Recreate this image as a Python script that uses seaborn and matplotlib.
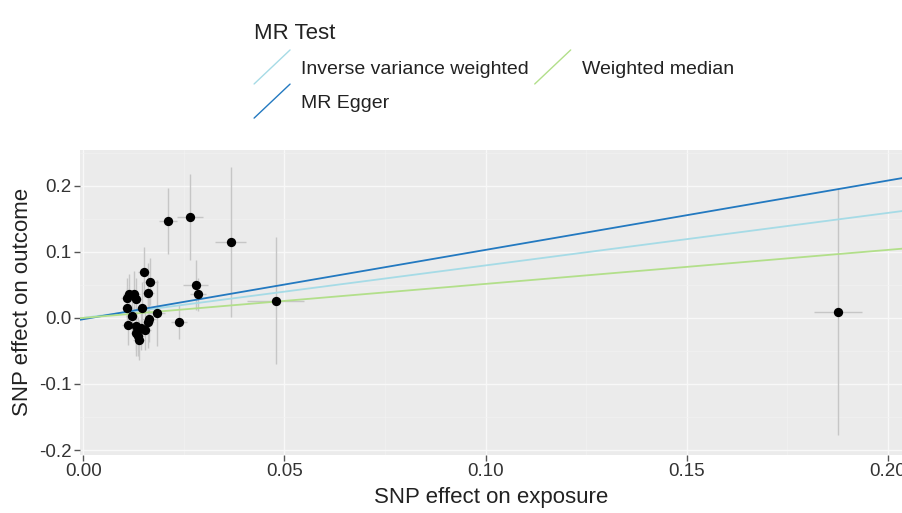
import numpy as np
import pandas as pd
import seaborn as sns
import matplotlib.pyplot as plt
from matplotlib.legend_handler import HandlerLine2D
from matplotlib.lines import Line2D

# SNP effects
beta_exp = [0.0211, 0.0266, 0.0366, 0.0478, 0.0279, 0.0286, 0.0239, 0.0152, 0.0167, 0.0160,
            0.0114, 0.0127, 0.0110, 0.0132, 0.0110, 0.0147, 0.0184, 0.0120, 0.0164, 0.0160,
            0.0112, 0.0132, 0.0144, 0.0154, 0.0132, 0.0137, 0.0139, 0.1876]
beta_out = [0.147, 0.153, 0.115, 0.026, 0.050, 0.036, -0.006, 0.070, 0.055, 0.038,
            0.036, 0.036, 0.030, 0.029, 0.015, 0.015, 0.008, 0.003, -0.002, -0.006,
            -0.011, -0.013, -0.016, -0.018, -0.023, -0.028, -0.033, 0.009]
se_exp = [0.0022, 0.0032, 0.0038, 0.0070, 0.0030, 0.0020, 0.0020, 0.0015, 0.0018, 0.0015,
          0.0015, 0.0014, 0.0016, 0.0015, 0.0014, 0.0016, 0.0020, 0.0014, 0.0018, 0.0015,
          0.0015, 0.0014, 0.0016, 0.0015, 0.0014, 0.0014, 0.0015, 0.0060]
se_out = [0.050, 0.065, 0.114, 0.096, 0.038, 0.025, 0.026, 0.038, 0.035, 0.045,
          0.030, 0.035, 0.030, 0.032, 0.030, 0.040, 0.050, 0.028, 0.035, 0.040,
          0.030, 0.035, 0.032, 0.030, 0.035, 0.030, 0.030, 0.187]

methods = ["Inverse variance weighted", "MR Egger", "Weighted median"]
intercepts = [0.0, -0.002, 0.0]
slopes = [0.795, 1.05, 0.515]
colors = ["#a6dbe6", "#2379c0", "#b2df8a"]

df = pd.DataFrame({"exp": beta_exp, "out": beta_out, "se_exp": se_exp, "se_out": se_out})


class DiagHandler(HandlerLine2D):
    # ggplot-style abline key: a diagonal stroke
    def create_artists(self, legend, orig_handle, xdescent, ydescent, width, height, fontsize, trans):
        ln = Line2D([0, width], [-height * 0.75, height * 1.75], color=orig_handle.get_color(),
                    lw=1.0, transform=trans)
        return [ln]


sns.set_theme(style="darkgrid", rc={"axes.facecolor": "#ebebeb", "grid.color": "white",
                                   "figure.facecolor": "white"})
plt.rcParams["font.family"] = ["Liberation Sans", "DejaVu Sans"]

fig = plt.figure(figsize=(9.03, 5.13), dpi=100)
ax = fig.add_axes([0.0886, 0.113, 0.9114, 0.595])

ax.errorbar(df["exp"], df["out"], xerr=df["se_exp"], yerr=df["se_out"], fmt="none",
            ecolor="#c6c6c6", elinewidth=1.0, zorder=2)
sns.scatterplot(data=df, x="exp", y="out", color="black", s=45, edgecolor="black",
                linewidth=0, zorder=4, ax=ax)

handles = []
for m, a, b, c in zip(methods, intercepts, slopes, colors):
    h = ax.axline((0, a), slope=b, color=c, lw=1.3, zorder=3, label=m)
    handles.append(h)

ax.set_xlim(-0.0008, 0.2037)
ax.set_ylim(-0.2076, 0.2545)
ax.set_xticks([0.0, 0.05, 0.10, 0.15, 0.20])
ax.set_xticklabels(["0.00", "0.05", "0.10", "0.15", "0.20"])
ax.set_yticks([-0.2, -0.1, 0.0, 0.1, 0.2])
ax.set_yticklabels(["-0.2", "-0.1", "0.0", "0.1", "0.2"])
ax.set_xticks([0.025, 0.075, 0.125, 0.175], minor=True)
ax.set_yticks([-0.15, -0.05, 0.05, 0.15, 0.25], minor=True)
ax.grid(which="major", color="#f8f8f8", lw=1.0)
ax.grid(which="minor", color="#f2f2f2", lw=0.5)
ax.tick_params(axis="both", which="major", length=4, width=1, color="#555555",
               labelsize=13.5, labelcolor="#333333", direction="out", bottom=True, left=True, pad=2)
ax.tick_params(axis="both", which="minor", length=0)
for s in ax.spines.values():
    s.set_visible(False)
ax.set_xlabel("SNP effect on exposure", fontsize=16, color="#222222", labelpad=5)
ax.set_ylabel("SNP effect on outcome", fontsize=16, color="#222222", labelpad=4)

leg = fig.legend(handles=handles, labels=methods, ncol=2, loc="upper left",
                 bbox_to_anchor=(0.262, 0.99), frameon=False, title="MR Test",
                 title_fontsize=16, fontsize=14, handler_map={Line2D: DiagHandler()},
                 handlelength=1.85, handletextpad=0.57, columnspacing=0.3, labelspacing=0.85,
                 alignment="left")
leg.get_title().set_color("#222222")
for t in leg.get_texts():
    t.set_color("#222222")

plt.savefig("out.png", dpi=100)
